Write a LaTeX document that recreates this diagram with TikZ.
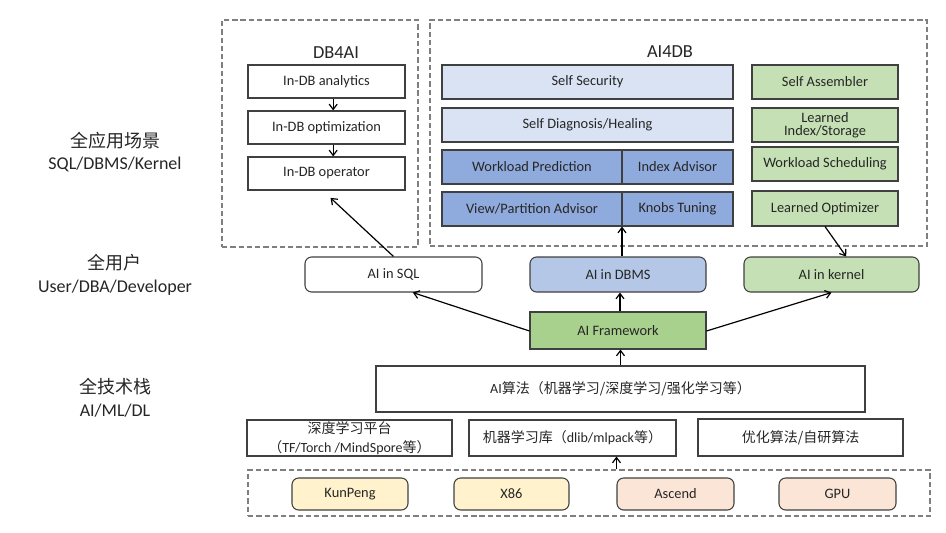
\documentclass[tikz,border=0pt]{standalone}
\usepackage{fontspec}
\setmainfont{Carlito}
\newfontfamily\cjk{Noto Sans CJK SC}
\usetikzlibrary{arrows.meta,fit}

\definecolor{edge}{HTML}{404040}
\definecolor{dashc}{HTML}{7F7F7F}
\definecolor{ink}{HTML}{262626}
\definecolor{paleblue}{HTML}{DAE3F3}
\definecolor{midblue}{HTML}{8FAADC}
\definecolor{softblue}{HTML}{B4C7E7}
\definecolor{palegreen}{HTML}{C5E0B4}
\definecolor{midgreen}{HTML}{A9D18E}
\definecolor{paleyellow}{HTML}{FFF2CC}
\definecolor{palepink}{HTML}{FBE5D6}

\tikzset{
  group/.style={draw=dashc, line width=1pt, dash pattern=on 4pt off 2.2pt, inner sep=0pt},
  box/.style={draw=edge, line width=0.8pt, fill=white, inner sep=0pt,
    label={[font=\fontsize{10.8}{12}\selectfont, text=ink, align=center]center:#1}},
  rbox/.style={box=#1, rounded corners=5pt},
  arr/.style={-{Straight Barb[length=4pt,width=6pt]}, line width=0.9pt, black},
  side/.style={font=\fontsize{13.5}{17}\selectfont, text=ink, align=center},
  title/.style={font=\fontsize{13.8}{16}\selectfont, text=ink},
  cjkbox/.style={draw=edge, line width=0.8pt, fill=white, inner sep=0pt,
    label={[font=\fontsize{10.5}{14}\selectfont, text=ink, align=center]center:#1}},
}

\begin{document}
\begin{tikzpicture}[x=0.75pt,y=-0.75pt]
\useasboundingbox (0,0) rectangle (946,532);

% layer labels on the left
\node[side] (lab1) at (115,152) {{\cjk 全应用场景}\\SQL/DBMS/Kernel};
\node[side] (lab2) at (115,275) {{\cjk 全用户}\\User/DBA/Developer};
\node[side] (lab3) at (115,398) {{\cjk 全技术栈}\\AI/ML/DL};

% DB4AI group
\node[group, fit={(222,20)(418,247)}] (db4ai) {};
\node[title] (t1) at (336,53) {DB4AI};
\node[box={In-DB analytics}, fit={(248,65)(405,98)}] (ana) {};
\node[box={In-DB optimization}, fit={(248,111)(405,144)}] (opt) {};
\node[box={In-DB operator}, fit={(248,157)(405,190)}] (oper) {};

% AI4DB group
\node[group, fit={(430,20)(927,246)}] (ai4db) {};
\node[title] (t2) at (670,52) {AI4DB};
\node[box={Self Security}, fit={(442,65)(733,99)}, fill=paleblue] (sec) {};
\node[box={Self Diagnosis/Healing}, fit={(442,108)(733,142)}, fill=paleblue] (diag) {};
\node[box={Workload Prediction}, fit={(442,150)(622,184)}, fill=midblue] (wlp) {};
\node[box={Index Advisor}, fit={(622,150)(733,184)}, fill=midblue] (idx) {};
\node[box={View/Partition Advisor}, fit={(442,192)(622,226)}, fill=midblue] (view) {};
\node[box={Knobs Tuning}, fit={(622,192)(733,226)}, fill=midblue] (knob) {};
\node[box={Self Assembler}, fit={(752,65)(898,99)}, fill=palegreen] (asm) {};
\node[box={Learned\\[-2pt]Index/Storage}, fit={(752,108)(898,142)}, fill=palegreen] (lidx) {};
\node[box={Workload Scheduling}, fit={(752,147)(898,181)}, fill=palegreen] (wls) {};
\node[box={Learned Optimizer}, fit={(752,191)(898,226)}, fill=palegreen] (lopt) {};

% user layer
\node[rbox={AI in SQL}, fit={(305,257)(482,292)}] (sql) {};
\node[rbox={AI in DBMS}, fit={(530,257)(706,292)}, fill=softblue] (dbms) {};
\node[rbox={AI in kernel}, fit={(744,257)(919,292)}, fill=palegreen] (kern) {};
\node[box={AI Framework}, fit={(530,312)(706,349)}, fill=midgreen] (fw) {};

% technology stack
\node[cjkbox={AI{\cjk 算法（机器学习/深度学习/强化学习等）}}, fit={(376,366)(865,412)}] (algo) {};
\node[cjkbox={{\cjk 深度学习平台}\\{\cjk （}TF/Torch /MindSpore{\cjk 等）}}, fit={(247,420)(452,456)}] (dl) {};
\node[cjkbox={{\cjk 机器学习库（}dlib/mlpack{\cjk 等）}}, fit={(469,420)(676,456)}] (ml) {};
\node[cjkbox={{\cjk 优化算法/自研算法}}, fit={(698,419)(903,456)}] (optalg) {};

% hardware
\node[group, fit={(248,470)(930,516)}] (hw) {};
\node[rbox={KunPeng}, fit={(292,478)(408,510)}, fill=paleyellow] (kp) {};
\node[rbox={X86}, fit={(454,478)(569,510)}, fill=paleyellow] (x86) {};
\node[rbox={Ascend}, fit={(617,478)(734,510)}, fill=palepink] (asc) {};
\node[rbox={GPU}, fit={(779,478)(896,510)}, fill=palepink] (gpu) {};

% connectors
\draw[arr] ([xshift=5pt]ana.south) -- ([xshift=5pt]opt.north);
\draw[arr] ([xshift=5pt]opt.south) -- ([xshift=5pt]oper.north);
\draw[arr] (sql.north) -- ([shift={(3pt,-5.5pt)}]oper.south);
\draw[arr] ([xshift=3pt]dbms.north) -- ([xshift=3pt]dbms.north |- view.south);
\draw[arr] (lopt.south) -- ([xshift=11pt]kern.north);
\draw[arr] ([xshift=1.5pt]fw.north) -- ([xshift=1.5pt]fw.north |- dbms.south);
\draw[arr] (fw.west |- 0,331) -- ([xshift=14.5pt]sql.south);
\draw[arr] (fw.east |- 0,331) -- (kern.south);
\draw[arr] (algo.north) -- (algo.north |- fw.south);
\draw[arr] (hw.north -| asc.west) -- (ml.south -| asc.west);
\end{tikzpicture}
\end{document}
